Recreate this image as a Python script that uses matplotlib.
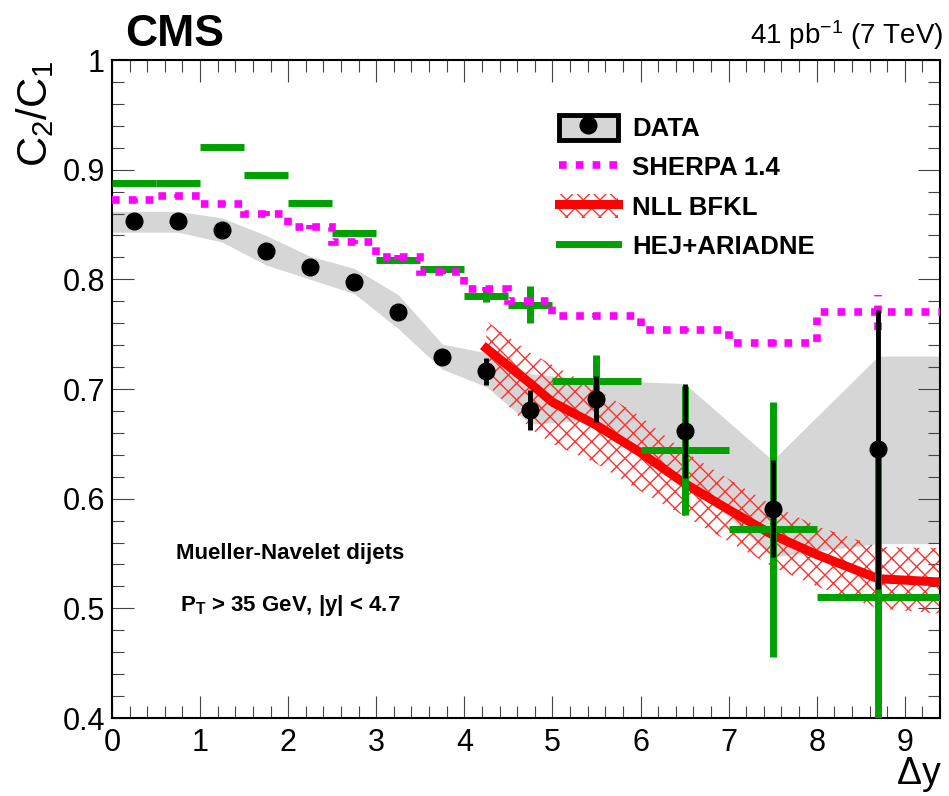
import numpy as np
import matplotlib
matplotlib.use('Agg')
import matplotlib.pyplot as plt
from matplotlib.patches import Rectangle
from matplotlib.lines import Line2D
from matplotlib.legend_handler import HandlerTuple
from matplotlib.ticker import MultipleLocator

plt.rcParams['font.family'] = ['Liberation Sans', 'DejaVu Sans']
plt.rcParams['mathtext.fontset'] = 'custom'
plt.rcParams['mathtext.rm'] = 'Liberation Sans'
plt.rcParams['mathtext.it'] = 'Liberation Sans:italic'
plt.rcParams['mathtext.bf'] = 'Liberation Sans:bold'
plt.rcParams['hatch.linewidth'] = 1.0

# bins in delta y
bin_edges = [0, 0.5, 1, 1.5, 2, 2.5, 3, 3.5, 4, 4.5, 5, 6, 7, 8, 9.4]

# CMS data
data_x = [0.25, 0.75, 1.25, 1.75, 2.25, 2.75, 3.25, 3.75, 4.25, 4.75, 5.5, 6.5, 7.5, 8.7]
data_y = [0.853, 0.853, 0.845, 0.826, 0.811, 0.798, 0.770, 0.729, 0.716, 0.681, 0.691, 0.662, 0.591, 0.645]
data_err = [0.003, 0.003, 0.003, 0.003, 0.003, 0.003, 0.003, 0.004, 0.012, 0.018, 0.021, 0.043, 0.044, 0.127]

# systematic band of the data
band_x = [0, 0.25, 0.75, 1.25, 1.75, 2.25, 2.75, 3.25, 3.75, 4.25, 4.75, 5.5, 6.5, 7.5, 8.7, 9.4]
band_hi = [0.862, 0.862, 0.862, 0.856, 0.840, 0.821, 0.810, 0.786, 0.741, 0.733, 0.714, 0.708, 0.705, 0.635, 0.730, 0.730]
band_lo = [0.843, 0.843, 0.843, 0.834, 0.813, 0.800, 0.787, 0.755, 0.718, 0.702, 0.668, 0.672, 0.620, 0.547, 0.559, 0.559]

# SHERPA 1.4
sherpa_y = [0.872, 0.876, 0.869, 0.860, 0.848, 0.834, 0.820, 0.807, 0.791, 0.780, 0.767, 0.754, 0.742, 0.770]
sherpa_err = [0.002, 0.002, 0.002, 0.002, 0.002, 0.002, 0.002, 0.002, 0.002, 0.004, 0.002, 0.002, 0.003, 0.016]

# HEJ+ARIADNE
hej_y = [0.888, 0.888, 0.921, 0.895, 0.870, 0.842, 0.818, 0.809, 0.785, 0.777, 0.707, 0.644, 0.572, 0.510]
hej_err = [0.001, 0.001, 0.002, 0.002, 0.002, 0.002, 0.002, 0.003, 0.006, 0.017, 0.024, 0.059, 0.116, 0.14]

# NLL BFKL
nll_x = [4.25, 4.75, 5.0, 5.5, 6.0, 6.5, 7.0, 7.5, 8.0, 8.7, 9.4]
nll_y = [0.737, 0.705, 0.688, 0.667, 0.642, 0.614, 0.590, 0.567, 0.549, 0.527, 0.524]
nll_hi = [0.762, 0.733, 0.722, 0.700, 0.675, 0.643, 0.618, 0.594, 0.575, 0.556, 0.555]
nll_lo = [0.705, 0.664, 0.650, 0.632, 0.607, 0.584, 0.561, 0.538, 0.520, 0.500, 0.495]

edges = np.array(bin_edges)
centers = (edges[:-1] + edges[1:]) / 2
halfw = (edges[1:] - edges[:-1]) / 2

green = '#00a000'
hatch_red = '#ff3030'
dots = (0, (1, 1.2))

fig = plt.figure(figsize=(9.49, 7.96), dpi=100)
ax = fig.add_axes([112/949, 1-718/796, (940-112)/949, (718-60)/796])

ax.fill_between(band_x, band_lo, band_hi, color='#d6d6d6', lw=0, zorder=1)
ax.fill_between(nll_x, nll_lo, nll_hi, facecolor='none', edgecolor=hatch_red, hatch='xx', lw=0, zorder=2)
ax.plot(nll_x, nll_y, color='red', lw=6.5, zorder=3)

ax.errorbar(centers, hej_y, xerr=halfw, yerr=hej_err, fmt='none', ecolor=green,
            elinewidth=5, capsize=0, zorder=4)

ax.stairs(sherpa_y, bin_edges, baseline=None, color='magenta', lw=5.5, linestyle=dots, zorder=5)
eb = ax.errorbar(centers, sherpa_y, yerr=sherpa_err, fmt='none', ecolor='magenta',
                 elinewidth=5.5, capsize=0, zorder=5)
eb.lines[2][0].set_linestyle(dots)

ax.errorbar(data_x, data_y, yerr=data_err, fmt='o', color='black', ms=12,
            elinewidth=3.5, capsize=0, zorder=6)

ax.set_xlim(0, 9.4)
ax.set_ylim(0.4, 1.0)
ax.xaxis.set_major_locator(MultipleLocator(1))
ax.xaxis.set_minor_locator(MultipleLocator(0.2))
ax.yaxis.set_major_locator(MultipleLocator(0.1))
ax.yaxis.set_minor_locator(MultipleLocator(0.02))
ax.set_yticks([0.4, 0.5, 0.6, 0.7, 0.8, 0.9, 1.0], ['0.4', '0.5', '0.6', '0.7', '0.8', '0.9', '1'])
ax.tick_params(which='both', direction='in', top=True, right=True, color='#444444', width=0.8)
ax.tick_params(which='major', length=16, labelsize=22)
ax.tick_params(which='minor', length=8.5)
ax.tick_params(axis='x', pad=7)
ax.tick_params(axis='y', pad=5)
for s in ax.spines.values():
    s.set_linewidth(1.5)

# legend
h_data = (Rectangle((0, 0), 1, 1, facecolor='#d6d6d6', edgecolor='black', lw=3.5),
          Line2D([], [], marker='o', color='black', ls='none', ms=12))
h_sherpa = Line2D([], [], color='magenta', lw=5.5, ls=dots)
h_nll = (Rectangle((0, 0), 1, 1, facecolor='none', edgecolor=hatch_red, hatch='xx', lw=0),
         Line2D([], [], color='red', lw=6.5))
h_hej = Line2D([], [], color=green, lw=5)
leg = ax.legend([h_data, h_sherpa, h_nll, h_hej], ['DATA', 'SHERPA 1.4', 'NLL BFKL', 'HEJ+ARIADNE'],
                handler_map={tuple: HandlerTuple(ndivide=1)}, loc='upper left',
                bbox_to_anchor=(546/949, 1-102/796), bbox_transform=fig.transFigure,
                frameon=False, borderpad=0, handlelength=2.3, handleheight=1.1,
                handletextpad=0.55, labelspacing=0.52, prop={'weight': 'bold', 'size': 18.5})

ax.text(290/949, 1-553/796, 'Mueller-Navelet dijets', transform=fig.transFigure,
        ha='center', va='center', fontsize=16, fontweight='bold')
ax.text(290/949, 1-605/796, r'$\mathbf{P_T}$ > 35 GeV, |y| < 4.7', transform=fig.transFigure,
        ha='center', va='center', fontsize=16, fontweight='bold')

fig.text(125/949, 1-35/796, 'CMS', fontsize=32, fontweight='bold', ha='left', va='center')
fig.text(943/949, 1-35/796, r'41 pb$^{-1}$ (7 TeV)', fontsize=20, ha='right', va='center')
fig.text(35/949, 1-60/796, r'C$_2$/C$_1$', fontsize=30, rotation=90, ha='center', va='top')
fig.text(942/949, 2/796, r'$\Delta$y', fontsize=27, ha='right', va='bottom')

fig.savefig('out.png', dpi=100)
